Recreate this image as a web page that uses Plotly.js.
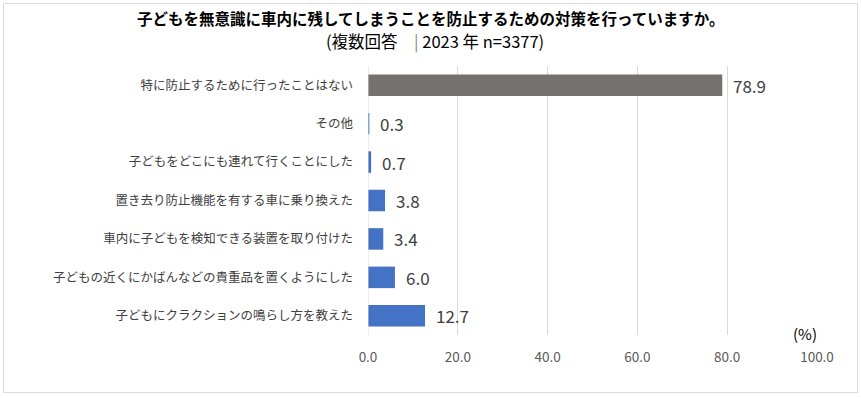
<!DOCTYPE html>
<html>
<head>
<meta charset="utf-8">
<script src="https://cdn.plot.ly/plotly-3.0.1.min.js"></script>
<style>html,body{margin:0;padding:0;background:#fff;}#chart{width:861px;height:398px;}</style>
</head>
<body>
<div id="chart"></div>
<script>
const categories = [
  "特に防止するために行ったことはない",
  "その他",
  "子どもをどこにも連れて行くことにした",
  "置き去り防止機能を有する車に乗り換えた",
  "車内に子どもを検知できる装置を取り付けた",
  "子どもの近くにかばんなどの貴重品を置くようにした",
  "子どもにクラクションの鳴らし方を教えた"
];
const values = [78.9, 0.3, 0.7, 3.8, 3.4, 6.0, 12.7];
const barColors = ["#767171", "#4472C4", "#4472C4", "#4472C4", "#4472C4", "#4472C4", "#4472C4"];
const xTicks = [0, 20, 40, 60, 80, 100];
const titleMain = "<b>子どもを無意識に車内に残してしまうことを防止するための対策を行っていますか。</b>";
const titleSub = "(複数回答　<span style='color:#888'>|</span> 2023 年 n=3377)";
const unitLabel = "(%)";

const W = 861, H = 398;
const M = {l: 368, r: 44, t: 66, b: 63};
const pw = W - M.l - M.r, ph = H - M.t - M.b;
const px = v => (v - M.l) / pw;
const py = v => 1 - (v - M.t) / ph;

const font = "'Noto Sans CJK JP', 'Noto Sans', sans-serif";

const trace = {
  type: "bar",
  orientation: "h",
  y: categories,
  x: values,
  marker: {color: barColors},
  hoverinfo: "none"
};

const valueLabels = values.map((v, i) => ({
  text: v.toFixed(1),
  xref: "x", yref: "y",
  x: v, y: categories[i],
  xanchor: "left", yanchor: "middle",
  xshift: 9,
  showarrow: false,
  font: {size: 17, color: "#404040", family: font}
}));

const layout = {
  width: W, height: H,
  margin: M,
  paper_bgcolor: "#fff",
  plot_bgcolor: "#fff",
  font: {family: font, color: "#404040"},
  showlegend: false,
  bargap: 0.44,
  xaxis: {
    range: [0, 100],
    tickvals: xTicks,
    tickformat: ".1f",
    showgrid: true,
    gridcolor: "#d9d9d9",
    gridwidth: 1,
    zeroline: false,
    showline: false,
    tickfont: {size: 13.5, color: "#595959", family: font},
    ticklabelstandoff: 12,
    fixedrange: true
  },
  yaxis: {
    autorange: "reversed",
    type: "category",
    showgrid: false,
    zeroline: false,
    showline: false,
    tickfont: {size: 12.5, color: "#404040", family: font},
    ticklabelstandoff: 14,
    fixedrange: true
  },
  shapes: [
    {type: "line", xref: "x", yref: "paper", x0: 0, x1: 0, y0: 0, y1: 1,
     line: {color: "#d9d9d9", width: 1}},
    {type: "rect", xref: "paper", yref: "paper",
     x0: px(3.5), x1: px(857.5), y0: py(3.5), y1: py(392.5),
     line: {color: "#d9d9d9", width: 1}, fillcolor: "rgba(0,0,0,0)", layer: "below"}
  ],
  annotations: [
    {text: titleMain, xref: "paper", yref: "paper", x: px(430), y: py(18),
     xanchor: "center", yanchor: "middle", showarrow: false,
     font: {size: 15.5, color: "#000", family: font}},
    {text: titleSub, xref: "paper", yref: "paper", x: px(435), y: py(41),
     xanchor: "center", yanchor: "middle", showarrow: false,
     font: {size: 16.5, color: "#000", family: font}},
    {text: unitLabel, xref: "paper", yref: "paper", x: px(805), y: py(333),
     xanchor: "center", yanchor: "middle", showarrow: false,
     font: {size: 15, color: "#000", family: font}}
  ].concat(valueLabels)
};

Plotly.newPlot("chart", [trace], layout, {displayModeBar: false, staticPlot: true});
</script>
</body>
</html>
